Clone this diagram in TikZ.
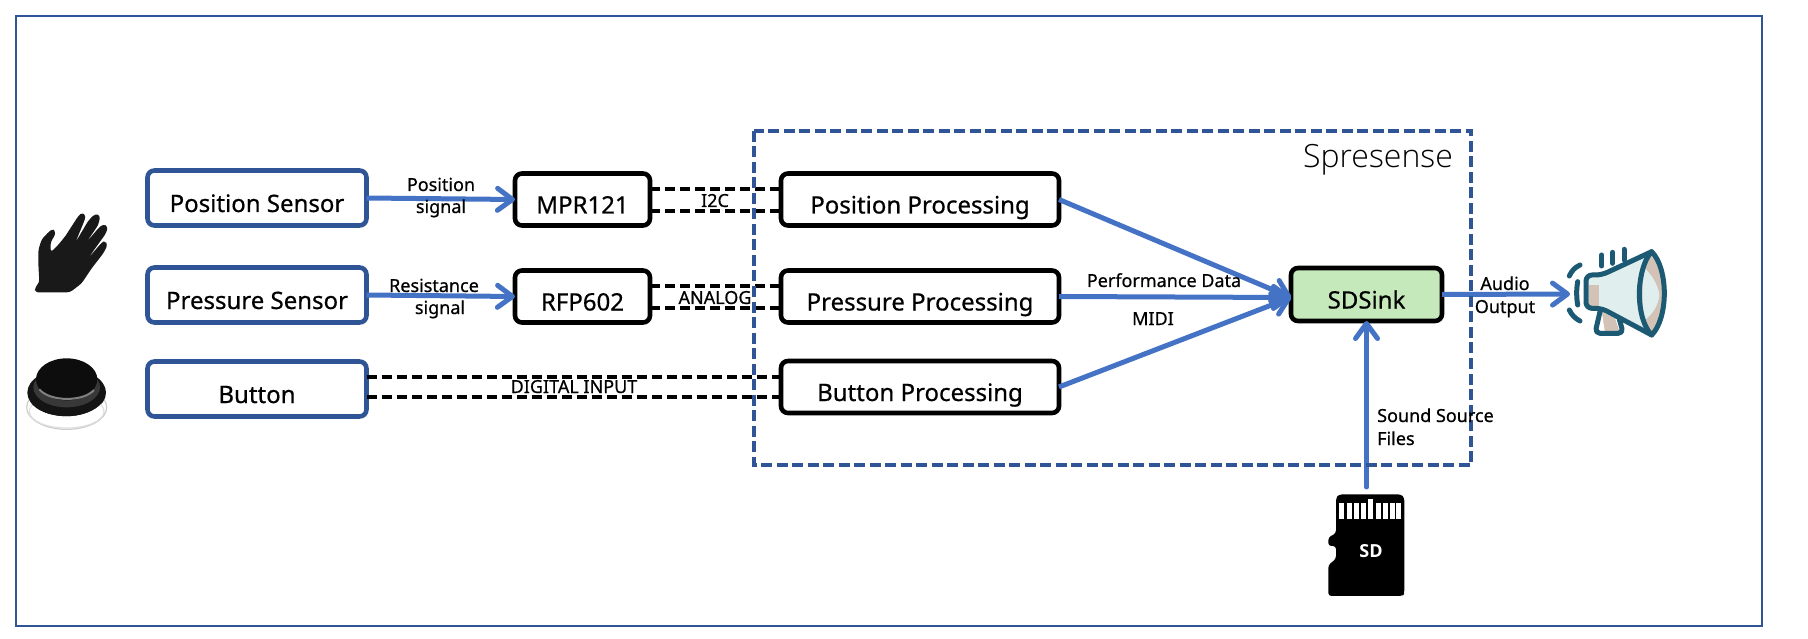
\documentclass[tikz,border=0pt]{standalone}
\usepackage{fontspec}
\setmainfont[RawFeature={embolden=0.6}]{Noto Sans}
\newfontfamily\lightf[UprightFont=* Light]{Open Sans}
\newfontfamily\sdf{Open Sans}
\usetikzlibrary{arrows.meta}
\definecolor{frameblue}{HTML}{2F5597}
\definecolor{arrowblue}{HTML}{4472C4}
\definecolor{sinkgreen}{HTML}{C6E9BC}
\definecolor{megateal}{HTML}{1C5A73}
\definecolor{megacyan}{HTML}{E0EEEE}
\definecolor{megatan}{HTML}{D3C3B6}
\tikzset{
  x=1pt,y=-1pt,
  box/.style={draw,rounded corners=7pt,line width=4.6pt,inner sep=0pt,outer sep=0pt,fill=white,font=\fontsize{24}{24}\selectfont},
  sensorbox/.style={box,draw=frameblue,minimum width=219pt,minimum height=55pt},
  blackbox/.style={box,draw=black,minimum height=52pt},
  flow/.style={draw=arrowblue,line width=5pt,-{Straight Barb[length=15pt,width=22pt,line width=5pt,round]}},
  wire/.style={draw=black,line width=3.6pt,dash pattern=on 10pt off 5pt},
  lab/.style={inner sep=0pt,anchor=base,font=\fontsize{18}{18}\selectfont},
  megaline/.style={draw=megateal,line width=5pt,line cap=round,line join=round},
}
\newcommand{\lowtext}[1]{\raisebox{-14pt}[0pt][0pt]{#1}}
\begin{document}
\begin{tikzpicture}
\useasboundingbox (0,0) rectangle (1808,639);
\fill[white] (0,0) rectangle (1808,639);
\draw[frameblue,line width=2.6pt] (16,16) rectangle (1762,626);

% nodes
\node[sensorbox] (posS) at (257,198) {\lowtext{Position Sensor}};
\node[sensorbox] (preS) at (257,295) {\lowtext{Pressure Sensor}};
\node[sensorbox] (btnS) at (257,389) {\lowtext{Button}};
\node[blackbox,minimum width=135pt] (mpr) at (582.5,199.5) {\lowtext{MPR121}};
\node[blackbox,minimum width=135pt] (rfp) at (582.5,296.5) {\lowtext{RFP602}};
\node[blackbox,minimum width=278pt] (posP) at (920,199.5) {\lowtext{Position Processing}};
\node[blackbox,minimum width=278pt] (preP) at (920,296.5) {\lowtext{Pressure Processing}};
\node[blackbox,minimum width=278pt] (btnP) at (920,387) {\lowtext{Button Processing}};
\node[box,draw=black,fill=sinkgreen,minimum width=151pt,minimum height=53pt] (sink) at (1366.5,294.5) {\lowtext{SDSink}};

\coordinate (sdtop) at (1366.5,487);
\coordinate (spk) at (1570,294);

% solid flows
\draw[flow] (posS.east) -- (mpr.west);
\draw[flow] (preS.east) -- (rfp.west);
\draw[flow] (posP.east) -- ([yshift=-3pt]sink.west);
\draw[flow] (preP.east) -- ([yshift=-3pt]sink.west);
\draw[flow] (btnP.east) -- ([yshift=-3pt]sink.west);
\draw[flow] (sink.east) -- (spk);
\draw[flow,line cap=round] (sdtop) -- (sink.south);

% dashed wires
\draw[wire] ([yshift=10.5pt]mpr.east) -- ([yshift=10.5pt]posP.west);
\draw[wire] ([yshift=-11.5pt]mpr.east) -- ([yshift=-11.5pt]posP.west);
\draw[wire] ([yshift=10.5pt]rfp.east) -- ([yshift=10.5pt]preP.west);
\draw[wire] ([yshift=-11.5pt]rfp.east) -- ([yshift=-11.5pt]preP.west);
\draw[wire] ([yshift=12pt]btnS.east) -- ([yshift=10pt]btnP.west);
\draw[wire] ([yshift=-8pt]btnS.east) -- ([yshift=-10pt]btnP.west);

% Spresense frame
\draw[frameblue,line width=4pt,dash pattern=on 11pt off 4.5pt] (754,131) rectangle (1471,465);
\node[inner sep=0pt,anchor=base,font=\lightf\fontsize{32}{32}\selectfont] (spr) at (1378,168) {Spresense};

% labels
\node[lab] (l1) at (441,191) {Position};
\node[lab] (l2) at (441,213) {signal};
\node[lab] (l3) at (434,292) {Resistance};
\node[lab] (l4) at (440,314) {signal};
\node[lab] (l5) at (715,207) {I2C};
\node[lab] (l6) at (715,304) {ANALOG};
\node[lab] (l7) at (574,393) {DIGITAL INPUT};
\node[lab] (l8) at (1164,287) {Performance Data};
\node[lab] (l9) at (1153,325) {MIDI};
\node[lab] (l10) at (1505,290) {Audio};
\node[lab] (l11) at (1505,313) {Output};
\node[lab,anchor=base west] (l12) at (1377,422) {Sound Source};
\node[lab,anchor=base west] (l13) at (1377,445) {Files};

% hand
\begin{scope}[shift={(20,200)},x=0.3333pt,y=-0.3333pt]
\fill[black!90,rounded corners=3pt] (45,277) -- (45,262) -- (58,248) -- (55,190) -- (55,150) -- (65,118) -- (82,100) -- (97,86) -- (107,95) -- (103,110) -- (92,125) -- (92,157) -- (110,140) -- (135,110) -- (175,48) -- (187,37) -- (198,48) -- (190,70) -- (166,128) -- (205,62) -- (226,41) -- (241,47) -- (235,75) -- (199,127) -- (235,85) -- (250,72) -- (264,80) -- (258,100) -- (202,178) -- (245,128) -- (255,122) -- (263,135) -- (250,160) -- (215,205) -- (185,250) -- (150,277) -- cycle;
\end{scope}

% button
\begin{scope}[shift={(20,350)},x=0.3333pt,y=-0.3333pt]
\draw[black!20,line width=1.2pt] (140,172) ellipse [x radius=120,y radius=66];
\draw[black!12,line width=1.2pt] (140,184) ellipse [x radius=112,y radius=50];
\fill[black!92] (140,128) ellipse [x radius=118,y radius=72];
\fill[white] (60,182) .. controls (110,208) and (200,208) .. (246,160) .. controls (225,220) and (95,220) .. (60,182) -- cycle;
\fill[black!78] (140,112) ellipse [x radius=100,y radius=60];
\fill[black!95] (140,88) ellipse [x radius=92,y radius=63];
\draw[black!50,line width=2pt] (58,118) .. controls (90,156) and (190,156) .. (222,120);
\end{scope}

% megaphone
\begin{scope}[shift={(1530,240)},x=0.3333pt,y=-0.3333pt]
\fill[megacyan] (175,105) -- (215,105) -- (365,35) -- (365,285) -- (215,205) -- (175,205) -- cycle;
\fill[megatan] (178,135) rectangle (207,198);
\fill[megatan] (215,215) -- (205,278) -- (270,278) -- (255,235) -- cycle;
\fill[white] (200,218) -- (215,215) -- (225,278) -- (205,278) -- cycle;
\fill[megatan] (365,35) .. controls (340,60) and (328,120) .. (328,160) .. controls (328,210) and (340,260) .. (365,285) .. controls (390,260) and (403,210) .. (403,160) .. controls (403,110) and (390,60) .. (365,35) -- cycle;
\fill[megacyan] (345,85) .. controls (370,110) and (385,140) .. (388,165) .. controls (385,195) and (370,220) .. (345,240) .. controls (335,200) and (335,125) .. (345,85) -- cycle;
\draw[megaline,rounded corners=6pt] (365,35) -- (215,105) -- (168,105) -- (168,205) -- (215,205) -- (365,285);
\draw[megaline] (365,35) .. controls (340,60) and (328,120) .. (328,160) .. controls (328,210) and (340,260) .. (365,285) .. controls (390,260) and (403,210) .. (403,160) .. controls (403,110) and (390,60) .. (365,35) -- cycle;
\draw[megaline,rounded corners=5pt] (210,215) -- (195,280) -- (280,280) -- (268,238);
\draw[megaline] (118,108) .. controls (125,92) and (135,82) .. (150,75);
\draw[megaline] (143,125) .. controls (139,150) and (139,172) .. (143,195);
\draw[megaline] (118,210) .. controls (125,225) and (135,235) .. (150,243);
\draw[megaline] (215,45) -- (215,78);
\draw[megaline] (248,37) -- (248,70);
\draw[megaline] (282,28) -- (282,60);
\end{scope}

% SD card
\begin{scope}[shift={(1310,485)},x=0.3333pt,y=-0.3333pt]
\fill[black,rounded corners=3pt] (78,145) -- (55,157) -- (55,183) -- (78,183) -- (78,222) -- (55,240) -- (55,333) -- (278,333) -- (283,325) -- (283,38) -- (273,28) -- (88,28) -- (78,38) -- cycle;
\foreach \a/\t in {88/55,110/55,132/55,153/55,175/42,197/55,218/55,240/55,258/55}{
  \fill[white] (\a,\t) rectangle (\a+15,102);
}
\end{scope}
\node[inner sep=0pt,text=white,font=\sdf\bfseries\fontsize{18}{18}\selectfont] (sdl) at (1371,551) {SD};
\end{tikzpicture}
\end{document}
